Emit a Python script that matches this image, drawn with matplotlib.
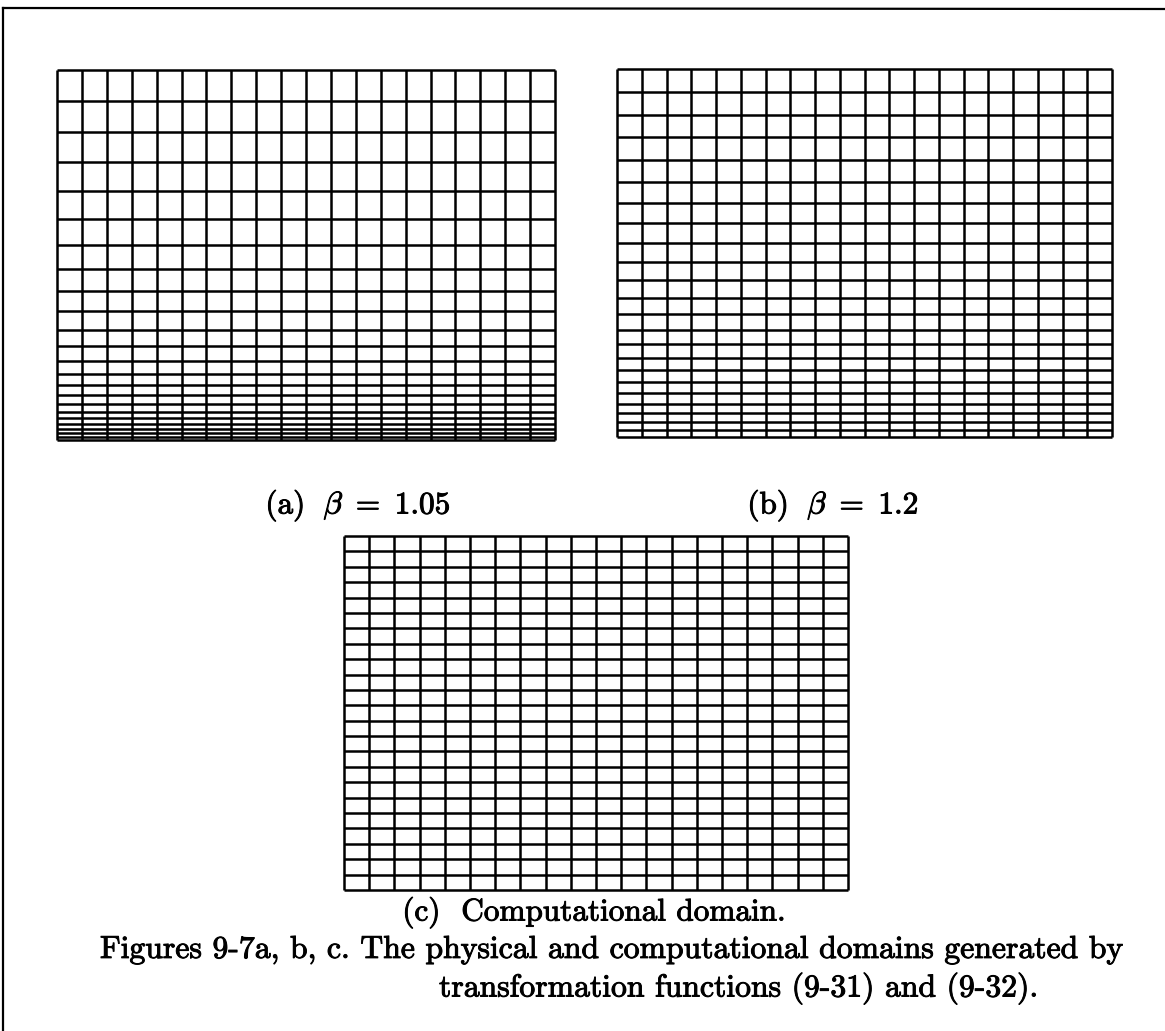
import matplotlib
matplotlib.use("Agg")
import matplotlib.pyplot as plt
from matplotlib.lines import Line2D
import matplotlib.patheffects as pe

plt.rcParams['mathtext.fontset'] = 'cm'
plt.rcParams['axes.unicode_minus'] = False

# ---- data: grid-line positions ----
# xi (horizontal) grid index lines, 20 columns -> 21 lines
xi_lines = list(range(21))
# eta lines, physical domain (a) beta = 1.05 (fraction of height, from bottom)
y_lines_a = [0.0, 0.0085, 0.0184, 0.0300, 0.0434, 0.0589, 0.0768, 0.0975,
             0.1212, 0.1484, 0.1793, 0.2144, 0.2541, 0.2985, 0.3480, 0.4027,
             0.4627, 0.5278, 0.5978, 0.6723, 0.7506, 0.8319, 0.9154, 1.0]
# eta lines, physical domain (b) beta = 1.2
y_lines_b = [0.0, 0.0200, 0.0417, 0.0653, 0.0909, 0.1187, 0.1486, 0.1808,
             0.2154, 0.2525, 0.2920, 0.3340, 0.3786, 0.4256, 0.4750, 0.5267,
             0.5806, 0.6365, 0.6941, 0.7534, 0.8139, 0.8753, 0.9375, 1.0]
# eta lines, computational domain (c): integer grid indices 0..23
y_lines_c = list(range(24))

label_a = r'$\mathrm{(a)}\ \ \beta\ =\ 1.05$'
label_b = r'$\mathrm{(b)}\ \ \beta\ =\ 1.2$'
label_c = '(c)  Computational domain.'
caption1 = 'Figures 9-7a, b, c. The physical and computational domains generated by'
caption2 = 'transformation functions (9-31) and (9-32).'

W, H = 1165, 1031
fig = plt.figure(figsize=(W / 100, H / 100), dpi=100)
fig.patch.set_facecolor('white')

LW = 1.8


def add_panel(x0, y0, x1, y1, xs, ys):
    ax = fig.add_axes([x0 / W, 1 - y1 / H, (x1 - x0) / W, (y1 - y0) / H])
    xmin, xmax = min(xs), max(xs)
    ymin, ymax = min(ys), max(ys)
    ax.vlines(xs, ymin, ymax, colors='black', linewidth=LW, clip_on=False)
    ax.hlines(ys, xmin, xmax, colors='black', linewidth=LW, clip_on=False)
    ax.set_xlim(xmin, xmax)
    ax.set_ylim(ymin, ymax)
    ax.axis('off')
    return ax


add_panel(57, 70, 555, 440, xi_lines, y_lines_a)
add_panel(617, 69, 1112, 437, xi_lines, y_lines_b)
add_panel(344, 536, 848, 890, xi_lines, y_lines_c)

fs = 22.5
bold = [pe.withStroke(linewidth=0.7, foreground='black')]
fig.text(358 / W, 1 - 506 / H, label_a, ha='center', va='center', fontsize=fs,
         path_effects=bold)
fig.text(833 / W, 1 - 506 / H, label_b, ha='center', va='center', fontsize=fs,
         path_effects=bold)
fig.text(594 / W, 1 - 913 / H, label_c, ha='center', va='center',
         fontsize=fs, family='cmr10', path_effects=bold)
fig.text(100 / W, 1 - 950 / H, caption1, ha='left', va='center',
         fontsize=fs * 1.015, family='cmr10', path_effects=bold)
fig.text(439 / W, 1 - 989 / H, caption2, ha='left', va='center',
         fontsize=fs * 1.015, family='cmr10', path_effects=bold)

# page frame (top and left edges)
fig.add_artist(Line2D([3 / W, 1.0], [1 - 8 / H, 1 - 9 / H], transform=fig.transFigure,
                      color='black', linewidth=1.6))
fig.add_artist(Line2D([3 / W, 3 / W], [1 - 8 / H, 0.0], transform=fig.transFigure,
                      color='black', linewidth=1.6))

fig.savefig('out.png', dpi=100, facecolor='white')
